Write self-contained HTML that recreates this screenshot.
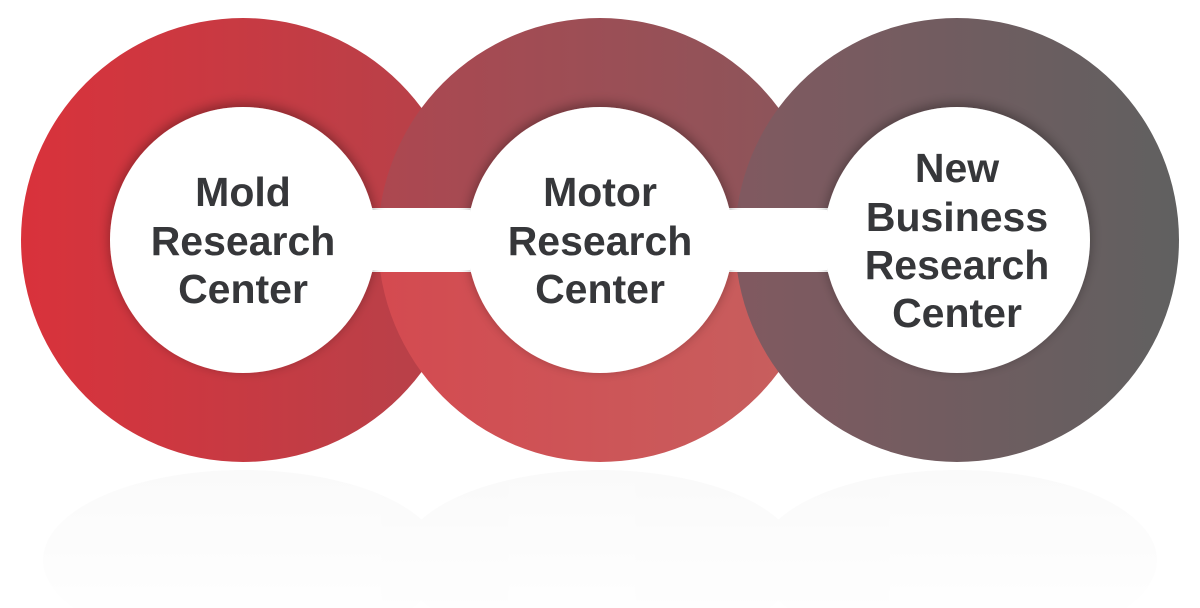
<!DOCTYPE html>
<html><head><meta charset="utf-8"><style>
html,body{margin:0;padding:0;background:#fff;width:1200px;height:608px;overflow:hidden}
svg{display:block}
text{font-family:"Liberation Sans",Arial,sans-serif;font-weight:bold;font-size:41px;fill:#36373a;text-anchor:middle}
</style></head><body>
<svg width="1200" height="608" viewBox="0 0 1200 608">
<defs>
<linearGradient id="gl" x1="0" x2="1" y1="0" y2="0"><stop offset="0" stop-color="#d9323b"/><stop offset="1" stop-color="#b5424a"/></linearGradient>
<linearGradient id="gmt" x1="0" x2="1"><stop offset="0" stop-color="#ad4750"/><stop offset="1" stop-color="#8a565b"/></linearGradient>
<linearGradient id="gmb" x1="0" x2="1"><stop offset="0" stop-color="#d44a50"/><stop offset="1" stop-color="#c6605f"/></linearGradient>
<linearGradient id="gr" x1="0" x2="1"><stop offset="0" stop-color="#815960"/><stop offset="1" stop-color="#606060"/></linearGradient>
<linearGradient id="refl" x1="0" x2="0" y1="0" y2="1"><stop offset="0" stop-color="#eee"/><stop offset="1" stop-color="#fff"/></linearGradient>
<clipPath id="top"><rect x="0" y="0" width="1200" height="240"/></clipPath>
<clipPath id="bot"><rect x="0" y="240" width="1200" height="368"/></clipPath>
<filter id="sh" x="-20%" y="-20%" width="140%" height="140%"><feDropShadow dx="0" dy="-3" stdDeviation="6" flood-color="#000" flood-opacity="0.35"/></filter>
</defs>
<g opacity="0.6">
<ellipse cx="243" cy="560" rx="200" ry="90" fill="url(#refl)"/>
<ellipse cx="600" cy="560" rx="200" ry="90" fill="url(#refl)"/>
<ellipse cx="957" cy="560" rx="200" ry="90" fill="url(#refl)"/>
</g>
<rect x="0" y="470" width="1200" height="138" fill="#fff" opacity="0.5"/>
<circle cx="243" cy="240" r="222" fill="url(#gl)"/>
<circle cx="600" cy="240" r="222" fill="url(#gmt)" clip-path="url(#top)"/>
<circle cx="600" cy="240" r="222" fill="url(#gmb)" clip-path="url(#bot)"/>
<circle cx="957" cy="240" r="222" fill="url(#gr)"/>
<rect x="240" y="208" width="720" height="64" fill="#fff"/>
<circle cx="243" cy="240" r="133" fill="#fff" filter="url(#sh)"/>
<circle cx="600" cy="240" r="133" fill="#fff" filter="url(#sh)"/>
<circle cx="957" cy="240" r="133" fill="#fff" filter="url(#sh)"/>
<rect x="370" y="210" width="100" height="60" fill="#fff"/>
<rect x="727" y="210" width="100" height="60" fill="#fff"/>
<text x="243" y="206">Mold</text>
<text x="243" y="255">Research</text>
<text x="243" y="303">Center</text>
<text x="600" y="206">Motor</text>
<text x="600" y="255">Research</text>
<text x="600" y="303">Center</text>
<text x="957" y="182">New</text>
<text x="957" y="231">Business</text>
<text x="957" y="279">Research</text>
<text x="957" y="327">Center</text>
</svg>
</body></html>
